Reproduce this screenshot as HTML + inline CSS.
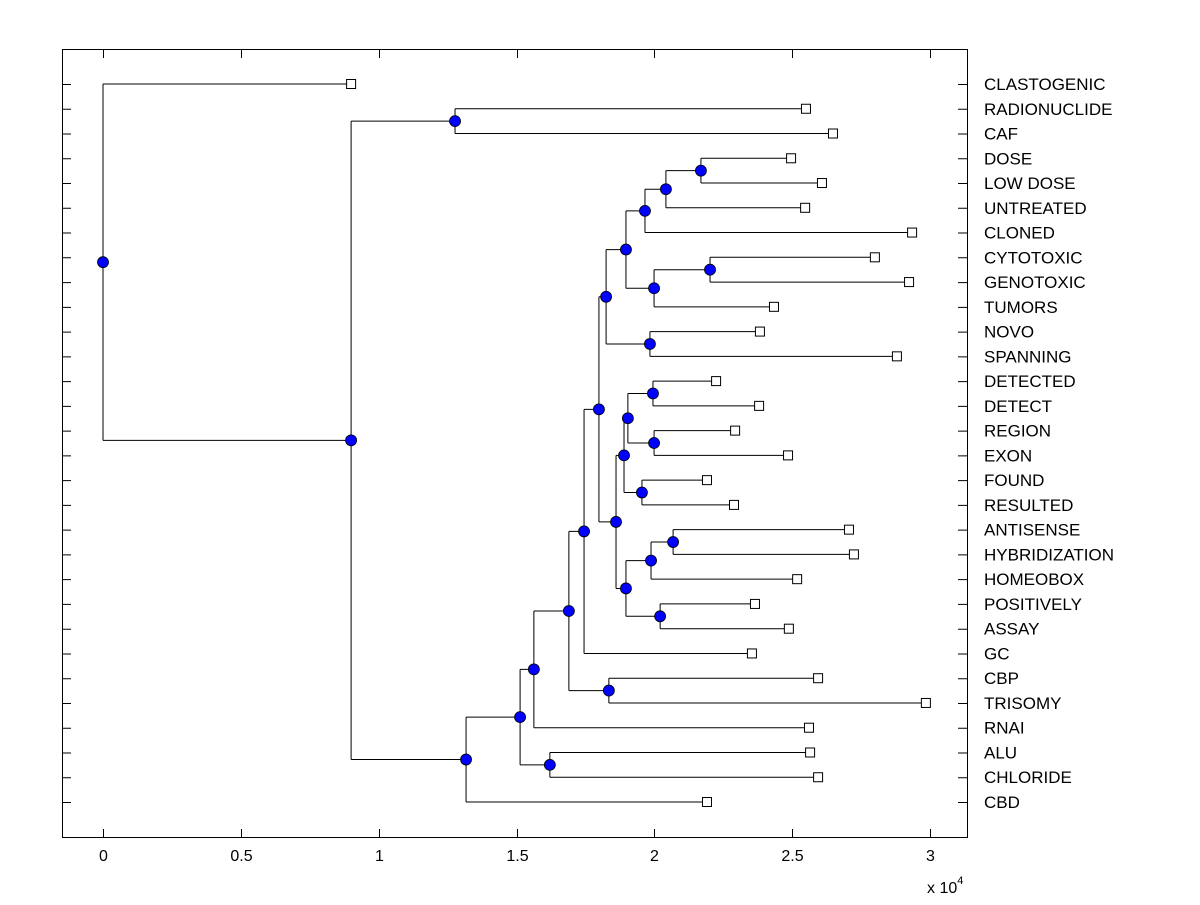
<!DOCTYPE html>
<html><head><meta charset="utf-8"><style>
body{margin:0;background:#fff}
svg text{font-family:"Liberation Sans",Arial,sans-serif;fill:#000}
</style></head><body>
<svg id="chart" width="1200" height="900" xmlns="http://www.w3.org/2000/svg">
<rect width="1200" height="900" fill="#fff"/>
<g id="marks"></g>
<rect x="62.5" y="49.5" width="905" height="788" fill="none" stroke="#000" stroke-width="1"/>
<g id="axes"></g>
</svg>
<script>
// leaf labels (top to bottom) and leaf heights (x 10^4)
const leafNames = ["CLASTOGENIC","RADIONUCLIDE","CAF","DOSE","LOW DOSE","UNTREATED","CLONED","CYTOTOXIC","GENOTOXIC","TUMORS","NOVO","SPANNING","DETECTED","DETECT","REGION","EXON","FOUND","RESULTED","ANTISENSE","HYBRIDIZATION","HOMEOBOX","POSITIVELY","ASSAY","GC","CBP","TRISOMY","RNAI","ALU","CHLORIDE","CBD"];
const leafValues = [0.900,2.550,2.648,2.496,2.608,2.547,2.935,2.800,2.924,2.434,2.383,2.880,2.224,2.380,2.293,2.485,2.191,2.289,2.706,2.724,2.518,2.365,2.488,2.354,2.594,2.985,2.561,2.565,2.594,2.191];
// internal nodes: id, value, children (leaf names or node ids)
const nodeIds = ["root","A","B","C","D","E","F","G","H","I","J","K","L","M","N","O","P","Q","R","S","T","U","V","W","X","Y","Z","AA","AB"];
const nodeValues = [0,0.900,1.277,1.317,1.513,1.563,1.621,1.690,1.745,1.835,1.799,1.825,1.861,1.897,1.984,1.966,1.999,2.042,2.169,2.202,1.890,1.897,1.904,1.955,1.995,1.999,1.988,2.021,2.068];
const nodeChildren = [["CLASTOGENIC","A"],["B","C"],["RADIONUCLIDE","CAF"],["D","CBD"],["E","F"],["G","RNAI"],["ALU","CHLORIDE"],["H","I"],["J","GC"],["CBP","TRISOMY"],["K","L"],["M","N"],["T","U"],["O","P"],["NOVO","SPANNING"],["Q","CLONED"],["S","TUMORS"],["R","UNTREATED"],["DOSE","LOW DOSE"],["CYTOTOXIC","GENOTOXIC"],["V","W"],["Z","AA"],["X","Y"],["FOUND","RESULTED"],["DETECTED","DETECT"],["REGION","EXON"],["AB","HOMEOBOX"],["POSITIVELY","ASSAY"],["ANTISENSE","HYBRIDIZATION"]];
const xTicks = [0,0.5,1,1.5,2,2.5,3];
const xTickLabels = ["0","0.5","1","1.5","2","2.5","3"];

const X0=103, XS=275.67, Y0=84, YS=(802-84)/29;
const xs = v => X0 + v*XS;
const ys = i => Y0 + i*YS;
const NS="http://www.w3.org/2000/svg";
const marks=document.getElementById('marks'), axes=document.getElementById('axes');
function mk(tag, attrs, parent){const e=document.createElementNS(NS,tag);for(const k in attrs)e.setAttribute(k,attrs[k]);parent.appendChild(e);return e;}

function pos(name){
  const li=leafNames.indexOf(name);
  if(li>=0) return {x:xs(leafValues[li]), y:ys(li)};
  const ni=nodeIds.indexOf(name);
  const ch=nodeChildren[ni].map(pos);
  return {x:xs(nodeValues[ni]), y:(ch[0].y+ch[1].y)/2, ch:ch};
}
const nodeDots=[];
nodeIds.forEach((id,i)=>{
  const p=pos(id);
  const g=mk('g',{},marks);
  
  
  mk('path',{d:`M${p.x} ${p.ch[0].y}V${p.ch[1].y}M${p.x} ${p.ch[0].y}H${p.ch[0].x}M${p.x} ${p.ch[1].y}H${p.ch[1].x}`,fill:'none',stroke:'#000','stroke-width':1},g);
  nodeDots.push(p);
});
leafNames.forEach((n,i)=>{
  const r=mk('rect',{x:xs(leafValues[i])-4.5,y:ys(i)-4.5,width:9,height:9,fill:'#fff',stroke:'#000','stroke-width':1},marks);
  
  
  const t=mk('text',{x:984,y:ys(i)+6,'font-size':17},axes);
  t.textContent=n;
  
  
  mk('path',{d:`M62 ${ys(i)+0.5}h9M967 ${ys(i)+0.5}h-9`,stroke:'#000','stroke-width':1},axes);
});
nodeDots.forEach(p=>{
  const c=mk('circle',{cx:p.x,cy:p.y,r:5.5,fill:'#0000ff',stroke:'#000','stroke-width':0.8},marks);
  
  
});
xTicks.forEach((v,i)=>{
  const x=Math.round(xs(v))+0.5;
  mk('path',{d:`M${x} 838v-9M${x} 49v9`,stroke:'#000','stroke-width':1},axes);
  const t=mk('text',{x:x,y:861,'font-size':16,'text-anchor':'middle'},axes);
  t.textContent=xTickLabels[i];
  
  
});
const ex=mk('text',{x:927,y:893,'font-size':16},axes);


ex.innerHTML='x 10<tspan dy="-9" font-size="11">4</tspan>';
</script>
</body></html>
